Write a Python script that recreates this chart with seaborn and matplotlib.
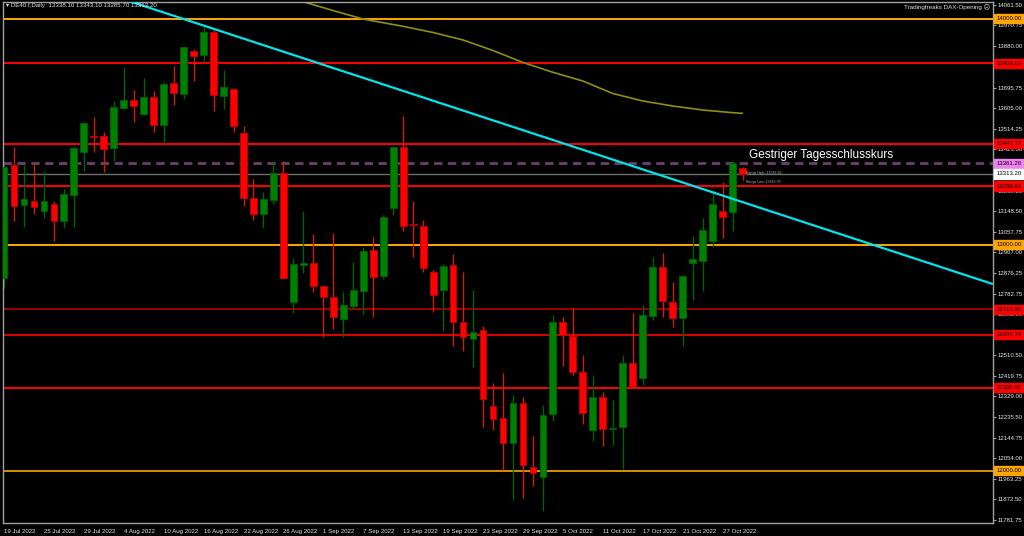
import numpy as np
import pandas as pd
import matplotlib
matplotlib.use('Agg')
import matplotlib.pyplot as plt
import matplotlib.transforms as mtransforms
import seaborn as sns

# trading days shown on the chart (DE40 daily)
dates = pd.bdate_range('2022-07-19', '2022-10-31')

opens = [12852.9, 13353.1, 13174.7, 13193.8, 13150.8, 13180.5, 13106.6, 13220.3, 13412.0, 13480.0,
         13481.5, 13427.1, 13606.8, 13640.9, 13578.9, 13655.5, 13530.2, 13714.8, 13668.8, 13859.2,
         13840.1, 13940.6, 13660.0, 13689.6, 13493.5, 13205.7, 13134.9, 13198.2, 13316.4, 12748.0,
         12909.1, 12918.0, 12818.8, 12770.1, 12670.1, 12730.3, 12796.7, 12976.9, 12861.7, 13161.5,
         13431.5, 13089.0, 13083.1, 12880.8, 12799.8, 12910.5, 12659.4, 12582.9, 12622.7, 12286.2,
         12234.4, 12123.8, 12298.2, 12017.5, 11973.2, 12249.5, 12656.8, 12597.4, 12438.1, 12180.0,
         12324.7, 12185.0, 12194.6, 12475.2, 12411.5, 12685.9, 12902.9, 12745.3, 12677.2, 12920.6,
         12929.5, 13018.0, 13149.5, 13146.4, 13338.1]
highs = [13353.0, 13434.0, 13353.0, 13357.6, 13326.6, 13193.8, 13246.9, 13438.6, 13544.8, 13564.3,
         13497.9, 13636.5, 13785.7, 13685.2, 13736.9, 13680.7, 13721.9, 13791.4, 13876.0, 13866.7,
         13965.4, 13950.8, 13773.7, 13692.7, 13525.8, 13291.2, 13232.3, 13365.1, 13370.9, 12940.1,
         13150.8, 13047.7, 12821.9, 13050.8, 12789.6, 12925.1, 12988.8, 13035.7, 13130.5, 13438.6,
         13570.0, 13193.8, 13109.7, 12888.3, 12913.6, 12959.1, 12878.1, 12799.8, 12640.4, 12386.7,
         12430.9, 12335.0, 12324.7, 12153.4, 12290.7, 12689.0, 12678.9, 12718.7, 12512.0, 12423.5,
         12349.6, 12312.8, 12512.0, 12696.6, 12733.4, 12947.2, 12962.2, 12833.9, 12866.2, 13040.2,
         13119.8, 13227.8, 13276.6, 13370.9, 13343.1]
lows = [12808.6, 13106.6, 13077.3, 13136.2, 13117.2, 13018.0, 13074.2, 13077.3, 13328.0, 13409.4,
        13320.8, 13370.9, 13599.7, 13544.8, 13574.5, 13500.6, 13449.2, 13618.8, 13645.3, 13726.3,
        13807.8, 13593.5, 13601.0, 13497.9, 13173.0, 13109.7, 13072.9, 13179.2, 12850.0, 12696.6,
        12873.7, 12789.6, 12593.0, 12627.1, 12590.4, 12715.7, 12693.5, 12681.6, 12848.4, 13131.8,
        13062.3, 12944.5, 12878.1, 12703.7, 12618.2, 12553.2, 12531.0, 12460.3, 12194.6, 12180.0,
        12000.4, 11870.1, 11877.6, 11933.4, 11822.7, 12221.2, 12464.7, 12423.5, 12206.6, 12132.7,
        12109.2, 12113.6, 12006.0, 12367.3, 12379.2, 12667.0, 12681.6, 12637.3, 12553.2, 12755.5,
        12796.7, 12991.5, 13031.3, 13062.3, 13285.7]
closes = [13344.3, 13173.0, 13201.3, 13165.9, 13193.8, 13106.6, 13224.8, 13427.1, 13537.7, 13477.0,
          13424.0, 13608.6, 13640.9, 13615.7, 13652.9, 13528.9, 13711.7, 13673.2, 13875.5, 13837.0,
          13940.6, 13661.7, 13697.1, 13527.1, 13205.7, 13134.9, 13201.3, 13316.4, 12851.6, 12913.6,
          12918.0, 12818.8, 12770.1, 12681.6, 12733.4, 12799.8, 12973.7, 12858.6, 13121.6, 13431.5,
          13084.4, 13086.0, 12898.5, 12777.6, 12907.3, 12659.4, 12590.4, 12612.5, 12317.2, 12228.7,
          12121.2, 12298.2, 12025.1, 11988.3, 12246.4, 12659.4, 12600.6, 12435.5, 12253.9, 12324.7,
          12183.1, 12188.0, 12475.2, 12376.1, 12689.0, 12902.9, 12752.4, 12677.2, 12861.7, 12935.7,
          13065.4, 13180.5, 13124.3, 13361.2, 13313.2]

# moving average (read at a few bars) and the trendline anchors
ma_bar = [27, 30, 33, 36, 40, 43, 46, 49, 52, 55, 58, 61, 64, 67, 70, 73, 74]
ma_val = [14114.0, 14075.6, 14036.7, 13999.0, 13967.0, 13939.7, 13906.5, 13860.0, 13806.9, 13763.5,
          13725.0, 13669.7, 13636.5, 13614.3, 13596.6, 13584.7, 13582.0]
trend_bar = [0, 99]
trend_val = [14260.0, 12827.0]

# horizontal levels
level_vals = [14000.00, 13803.02, 13447.72, 13361.20, 13313.20, 13259.63, 13000.00, 12713.96, 12601.79, 12366.00, 12000.00]
level_line = ['#FFA500', '#FF0000', '#FF0000', '#6E3F6E', '#6E6E6E', '#FF0000', '#FFA500', '#A00000', '#E00000', '#FF0000', '#D89000']
level_box = ['#FFA500', '#FF0000', '#FF0000', '#EE82EE', '#FFFFFF', '#FF0000', '#FFA500', '#FF0000', '#FF0000', '#FF0000', '#FFA500']

ytick_vals = [14061.50, 13970.75, 13880.00, 13789.25, 13695.75, 13605.00, 13514.25, 13423.50, 13332.75,
              13239.25, 13148.50, 13057.75, 12967.00, 12876.25, 12782.75, 12692.00, 12601.25, 12510.50,
              12419.75, 12329.00, 12235.50, 12144.75, 12054.00, 11963.25, 11872.50, 11781.75]
xtick_labels = ['19 Jul 2022', '25 Jul 2022', '29 Jul 2022', '4 Aug 2022', '10 Aug 2022', '16 Aug 2022',
                '22 Aug 2022', '26 Aug 2022', '1 Sep 2022', '7 Sep 2022', '13 Sep 2022', '19 Sep 2022',
                '23 Sep 2022', '29 Sep 2022', '5 Oct 2022', '11 Oct 2022', '17 Oct 2022', '21 Oct 2022',
                '27 Oct 2022']

df = pd.DataFrame({'date': dates, 'open': opens, 'high': highs, 'low': lows, 'close': closes})
df['bar'] = np.arange(len(df))
up = df['close'] >= df['open']

sns.set_style('dark', {'axes.facecolor': 'black', 'figure.facecolor': 'black'})
plt.rcParams['font.family'] = ['Liberation Sans', 'DejaVu Sans']
ysize = 4.3
xsize = 4.4

fig = plt.figure(figsize=(10.24, 5.36), dpi=100)
ax = fig.add_axes([3 / 1024, 13.5 / 536, 990 / 1024, 521 / 536])
ax.set_facecolor('black')

# levels
for v, c in zip(level_vals, level_line):
    if c == '#6E3F6E':
        ax.axhline(v, color=c, lw=2, dashes=(3, 2), zorder=1)
    elif c == '#6E6E6E':
        ax.axhline(v, color=c, lw=1, zorder=1)
    else:
        ax.axhline(v, color=c, lw=1.4, zorder=1)

# candles
green, red = '#008000', '#FF0000'
ax.vlines(df.loc[up, 'bar'], df.loc[up, 'low'], df.loc[up, 'high'], color='#006400', lw=1, zorder=2)
ax.vlines(df.loc[~up, 'bar'], df.loc[~up, 'low'], df.loc[~up, 'high'], color='#D02000', lw=1, zorder=2)
body = (df['close'] - df['open']).abs().clip(lower=4)
bottom = df[['open', 'close']].min(axis=1)
ax.bar(df.loc[up, 'bar'], body[up], bottom=bottom[up], width=0.68, color=green, edgecolor='#006000', lw=0.6, zorder=3)
ax.bar(df.loc[~up, 'bar'], body[~up], bottom=bottom[~up], width=0.68, color=red, edgecolor='#C00000', lw=0.6, zorder=3)

# MA and trendline
sns.lineplot(x=ma_bar, y=ma_val, ax=ax, color='#8F8F10', lw=1.2, zorder=2)
sns.lineplot(x=trend_bar, y=trend_val, ax=ax, color='#00E5EE', lw=1.6, zorder=4)

ax.set_xlim(-0.1, 99.1)
ax.set_ylim(11770, 14077)

# axes styling
for s in ax.spines.values():
    s.set_color('#A0A0A0')
    s.set_linewidth(1)
ax.yaxis.tick_right()
ax.set_yticks(ytick_vals)
ax.set_yticklabels(['%.2f' % v for v in ytick_vals])
pos = [int(np.where(dates == pd.to_datetime(l, format='%d %b %Y'))[0][0]) for l in xtick_labels]
ax.set_xticks(pos)
ax.set_xticklabels(xtick_labels, ha='left')
ax.tick_params(axis='y', colors='#A0A0A0', labelcolor='#E8E8E8', labelsize=ysize, length=2, width=0.8, pad=1)
ax.tick_params(axis='x', colors='#A0A0A0', labelcolor='#E8E8E8', labelsize=xsize, length=3, width=0.8, pad=2)
ax.set_xlabel('')
ax.set_ylabel('')
ax.grid(False)

# price labels on the scale
tr = mtransforms.blended_transform_factory(ax.transAxes, ax.transData)
for v, c in zip(level_vals, level_box):
    ax.text(1.0035, v, '%.2f' % v, transform=tr, ha='left', va='center', fontsize=ysize, color='black',
            clip_on=False, zorder=10,
            bbox=dict(boxstyle='square,pad=0.35', fc=c, ec=c))

# annotations
ax.text(74.7, 13397, 'Gestriger Tagesschlusskurs', color='white', fontsize=8.5,
        ha='left', va='center', zorder=6)
ax.text(74.3, 13318, 'Range High: 13343.10', color='#B0B0B0', fontsize=2.5, ha='left', va='center', zorder=6)
ax.text(74.3, 13278, 'Range Low: 13285.70', color='#B0B0B0', fontsize=2.5, ha='left', va='center', zorder=6)

fig.text(6 / 1024, 1 - 6 / 536, '\u25be DE40.f,Daily  %.2f %.2f %.2f %.2f' % (opens[-1], highs[-1], lows[-1], closes[-1]),
         color='#E0E0E0', fontsize=4.4, ha='left', va='center')
fig.text(990 / 1024, 1 - 7 / 536, 'Tradingfreaks DAX-Opening \u2639', color='#E0E0E0', fontsize=4.5,
         ha='right', va='center')

fig.savefig('out.png', dpi=100, facecolor='black')
